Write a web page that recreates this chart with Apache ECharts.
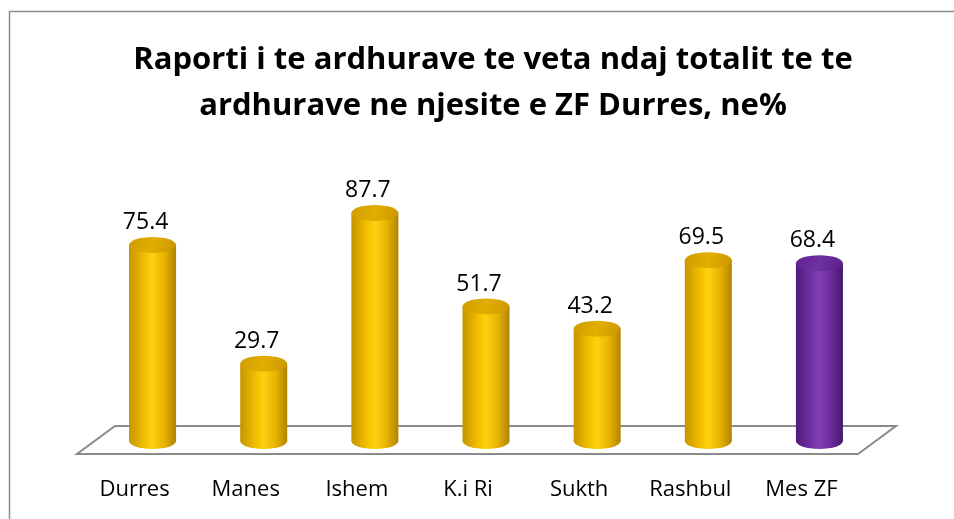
<!DOCTYPE html>
<html>
<head>
<meta charset="utf-8">
<script src="https://cdn.jsdelivr.net/npm/echarts@6/dist/echarts.min.js"></script>
<style>
    html, body {margin: 0; padding: 0; background: #fff;}
    #main {width: 954px; height: 519px;}
</style>
</head>
<body>
<div id="main"></div>
<script>
    // data
    var categories = ['Durres', 'Manes', 'Ishem', 'K.i Ri', 'Sukth', 'Rashbul', 'Mes ZF'];
    var values = [75.4, 29.7, 87.7, 51.7, 43.2, 69.5, 68.4];
    var colorKeys = ['gold', 'gold', 'gold', 'gold', 'gold', 'gold', 'purple'];

    var palette = {
        gold: {
            body: ['#C49400', '#F5C200', '#FFCF10', '#E8B400', '#B08300'],
            top: ['#D09C00', '#E2AE00', '#C99600']
        },
        purple: {
            body: ['#4F1A78', '#7433A8', '#8140B8', '#6A2C9C', '#46166C'],
            top: ['#5E2290', '#7030A0', '#58208A']
        }
    };

    function hGrad(c) {
        return new echarts.graphic.LinearGradient(0, 0, 1, 0, [
            {offset: 0, color: c[0]},
            {offset: 0.35, color: c[1]},
            {offset: 0.5, color: c[2]},
            {offset: 0.75, color: c[3]},
            {offset: 1, color: c[4]}
        ]);
    }

    var myChart = echarts.init(document.getElementById('main'));

    var cylW = 47, ry = 8;

    function renderCylinder(params, api) {
        var idx = api.value(0);
        var top = api.coord([idx, api.value(1)]);
        var base = api.coord([idx, 0]);
        var pal = palette[colorKeys[params.dataIndex]];
        var cx = top[0], rx = cylW / 2;
        return {
            type: 'group',
            children: [
                {
                    type: 'ellipse',
                    shape: {cx: cx, cy: base[1], rx: rx, ry: ry},
                    style: {fill: hGrad(pal.body)}
                },
                {
                    type: 'rect',
                    shape: {x: cx - rx, y: top[1], width: cylW, height: base[1] - top[1]},
                    style: {fill: hGrad(pal.body)}
                },
                {
                    type: 'ellipse',
                    shape: {cx: cx, cy: top[1], rx: rx, ry: ry},
                    style: {
                        fill: new echarts.graphic.LinearGradient(0, 0, 1, 1, [
                            {offset: 0, color: pal.top[0]},
                            {offset: 0.5, color: pal.top[1]},
                            {offset: 1, color: pal.top[2]}
                        ])
                    }
                },
                {
                    type: 'text',
                    x: cx - 7,
                    y: top[1] - ry - 3,
                    style: {
                        text: String(api.value(1)),
                        fontSize: 23,
                        fontFamily: 'Open Sans',
                        fill: '#000',
                        align: 'center',
                        verticalAlign: 'bottom'
                    }
                }
            ]
        };
    }

    // floor plane under the bars, built from the grid rect
    function renderFloor(params, api) {
        var cs = params.coordSys;
        var baseY = api.coord([0, 0])[1];
        var l = cs.x, r = cs.x + cs.width;
        var backY = baseY - 15, frontY = baseY + 13;
        return {
            type: 'polygon',
            shape: {
                points: [
                    [l + 18, backY], [r + 21, backY],
                    [r - 17, frontY], [l - 20, frontY]
                ]
            },
            style: {fill: '#fff', stroke: '#8a8a8a', lineWidth: 2}
        };
    }

    var cylData = [];
    for (var a = 0; a < values.length; a++) {
        cylData.push([a, values[a]]);
    }

    var option = {
        animation: false,
        backgroundColor: '#fff',
        title: {
            text: 'Raporti i te ardhurave te veta ndaj totalit te te\nardhurave ne njesite e ZF Durres, ne%',
            left: 488,
            top: 32,
            textAlign: 'center',
            textStyle: {
                fontFamily: 'Open Sans',
                fontWeight: 'bold',
                fontSize: 31,
                lineHeight: 46,
                color: '#000'
            }
        },
        graphic: [
            {
                type: 'rect',
                shape: {x: 9.5, y: 11.5, width: 1000, height: 600},
                style: {fill: 'none', stroke: '#8c8c8c', lineWidth: 1.5},
                z: -1
            }
        ],
        grid: {
            left: 97,
            width: 778,
            top: 181,
            height: 260
        },
        xAxis: {
            type: 'category',
            data: categories,
            axisLine: {show: false},
            axisTick: {show: false},
            axisLabel: {
                interval: 0,
                margin: 38,
                fontSize: 22,
                fontFamily: 'Open Sans',
                color: '#000',
                padding: [0, 36, 0, 0]
            }
        },
        yAxis: {
            type: 'value',
            min: 0,
            max: 100,
            show: false
        },
        series: [
            {
                type: 'custom',
                name: 'floor',
                renderItem: renderFloor,
                data: [[0, 0]],
                z: 1,
                silent: true
            },
            {
                type: 'custom',
                name: 'cylinders',
                renderItem: renderCylinder,
                data: cylData,
                z: 2
            }
        ]
    };
    myChart.setOption(option);
</script>
</body>
</html>
